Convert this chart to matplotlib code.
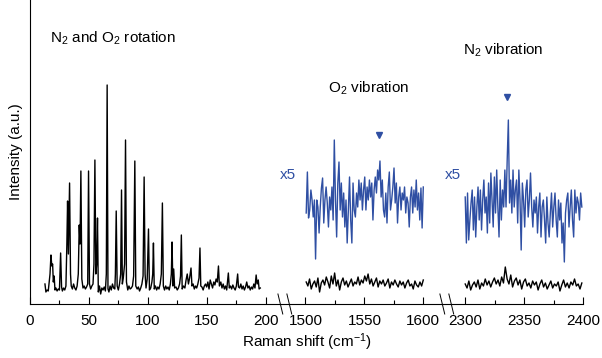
import numpy as np
import matplotlib
matplotlib.use("Agg")
import matplotlib.pyplot as plt

plt.rcParams['font.family'] = ['Liberation Sans', 'DejaVu Sans']
plt.rcParams['mathtext.fontset'] = 'custom'
plt.rcParams['mathtext.rm'] = 'Liberation Sans'
plt.rcParams['mathtext.it'] = 'Liberation Sans:italic'

BLUE = '#2f4fa3'

# rotation spectrum (cm-1, a.u.)
rot_x = [12.7, 13.5, 14.5, 15.5, 17.0, 17.8, 18.5, 19.2, 19.8, 20.5, 21.2, 22, 23, 24, 25, 26, 26.8, 27.5,
         28.5, 29.5, 30.5, 31.3, 31.9, 32.6, 33.6, 34.4, 35, 36, 37, 38, 39, 40, 41, 41.8, 42.5, 43.2, 44,
         45, 46, 47, 48, 49, 49.7, 50.5, 51.5, 52.5, 53.5, 54.3, 55.1, 55.9, 56.6, 57.3, 58, 59, 60, 61, 62,
         63, 64, 64.8, 65.5, 66.2, 67, 68, 69, 70, 71, 72, 72.5, 73.2, 74, 75, 76, 77, 77.7, 78.4, 79.2, 80.3,
         81.1, 81.9, 83, 84, 85, 86, 87, 88, 89, 89.8, 91, 92, 93, 94, 95, 96, 96.9, 97.7, 98.5, 99.5, 100.6,
         101.4, 102.5, 103.5, 104.2, 104.8, 105.5, 106.5, 107.5, 108.5, 109.5, 110.5, 111.5, 112.4, 113.2,
         114.2, 115.2, 116.2, 117.2, 118.2, 119.2, 120, 120.6, 121.3, 122, 122.8, 124, 125, 126, 127, 127.8,
         128.5, 129.2, 130.3, 131.5, 132.5, 133.5, 134.5, 135.5, 136.7, 137.5, 138.5, 139.5, 140.5, 141.5,
         142.5, 143.5, 144.3, 145, 146, 147, 148, 149, 150, 151, 152, 153, 154, 155, 156, 157, 158, 159, 160,
         160.8, 162, 163, 164, 165, 166, 167, 168.4, 169.2, 170.2, 171.2, 172.2, 173.2, 174.2, 175.2, 176.3,
         177, 178, 179, 180, 181, 182, 183, 184, 185, 186, 187, 188, 189, 190, 191, 192, 192.8, 193.8, 194.5,
         195.5]
rot_y = [20, 12, 14, 13, 30, 49, 38, 40, 22, 28, 14, 16, 13, 15, 14, 51, 17, 13,
         16, 14, 18, 60, 103, 50, 121, 30, 18, 15, 20, 16, 14, 18, 30, 79, 60, 133, 25,
         16, 18, 15, 17, 20, 133, 20, 15, 18, 20, 40, 144, 30, 40, 86, 12, 18, 10, 16, 14,
         17, 13, 30, 219, 15, 12, 18, 14, 20, 16, 15, 30, 93, 18, 14, 20, 30, 114, 20, 26, 40,
         164, 22, 14, 18, 15, 16, 18, 28, 143, 18, 15, 17, 13, 16, 20, 28, 127, 30, 16, 25, 75,
         14, 16, 22, 30, 61, 15, 18, 14, 17, 15, 20, 30, 101, 18,
         14, 18, 15, 17, 14, 20, 30, 62, 18, 35, 16, 17, 14, 16, 20, 28,
         69, 15, 18, 16, 24, 30, 20, 26, 36, 18, 20, 15, 18, 16,
         20, 26, 56, 18, 17, 14, 18, 20, 17, 22, 15, 24, 20, 16, 22, 19, 25, 22, 38,
         18, 22, 16, 20, 15, 18, 14, 31, 16, 18, 15, 19, 16, 14, 18, 30,
         17, 16, 20, 15, 18, 14, 17, 22, 16, 18, 14, 17, 15, 20, 16, 29, 20, 24, 15,
         16]

# O2 vibration region
o2_blue = [91, 132, 86, 94, 114, 104, 87, 104, 45, 104, 97, 71, 97, 116, 126, 81, 104, 117, 101, 77,
           107, 94, 117, 84, 164, 104, 67, 121, 142, 94, 121, 87, 111, 77, 104, 61, 94, 127, 84, 61,
           121, 94, 87, 111, 97, 124, 104, 121, 94, 114, 127, 94, 117, 104, 124, 107, 121, 84, 114, 127,
           111, 134, 124, 143, 107, 124, 94, 87, 111, 81, 117, 132, 94, 104, 117, 136, 101, 121, 81, 107,
           117, 94, 111, 104, 117, 91, 107, 101, 77, 107, 117, 91, 114, 97, 124, 94, 111, 84, 116, 76, 117]
o2_black = [22, 18, 25, 15, 20, 23, 17, 26, 12, 21, 24, 19, 27, 22, 16, 28, 20, 31, 18, 24, 14, 22, 26, 19,
            23, 17, 21, 25, 18, 22, 20, 27, 19, 24, 21, 28, 23, 30, 20, 25, 18, 22, 26, 17, 23, 20, 24, 18,
            21, 25, 16, 22, 19, 24, 20, 17, 23, 19, 22, 16, 21, 24, 18, 20, 15, 23, 19, 17, 22, 18, 24]

# N2 vibration region
n2_blue = [107, 61, 111, 64, 84, 101, 114, 74, 107, 67, 97, 117, 84, 114, 74, 104, 124, 91, 107, 71,
           121, 81, 131, 104, 77, 127, 91, 134, 97, 67, 124, 84, 114, 97, 134, 97, 144, 184, 101, 124,
           91, 134, 97, 114, 124, 81, 134, 104, 54, 121, 104, 77, 114, 124, 87, 104, 131, 97, 77, 104,
           91, 107, 71, 97, 111, 67, 97, 104, 84, 61, 107, 81, 67, 91, 111, 77, 97, 111, 84, 67,
           104, 84, 101, 61, 81, 42, 91, 104, 111, 77, 97, 114, 84, 67, 114, 91, 107, 101, 84, 111, 97]
n2_black = [20, 16, 23, 14, 19, 22, 17, 24, 15, 21, 18, 25, 19, 23, 17, 22, 26, 20, 24, 18, 27, 21, 37,
            25, 20, 29, 17, 23, 26, 19, 24, 15, 22, 25, 18, 21, 16, 23, 19, 22, 14, 20, 24, 17, 21, 15,
            19, 23, 16, 20, 18, 22, 13, 19, 24, 17, 21, 16, 22, 19, 25, 18, 20, 15, 21]

o2_range = (1500.6, 1600)
n2_range = (2300, 2399)
o2_peak = (1562.7, 169)
n2_peak = (2335.6, 207)

# broken axis: map each segment onto one continuous coordinate
seg2_start = 233.9
seg3_start = 369.5


def u2(x):
    return np.asarray(x) - 1500 + seg2_start


def u3(x):
    return np.asarray(x) - 2300 + seg3_start


fig = plt.figure(figsize=(6.02, 3.58), dpi=100)
ax = fig.add_axes([30/602, 54/358, 553/602, 304/358])

ax.plot(rot_x, rot_y, color='black', lw=1.0)

x = np.linspace(*o2_range, len(o2_blue))
ax.plot(u2(x), o2_blue, color=BLUE, lw=1.0)
x = np.linspace(*o2_range, len(o2_black))
ax.plot(u2(x), o2_black, color='black', lw=1.0)

x = np.linspace(*n2_range, len(n2_blue))
ax.plot(u3(x), n2_blue, color=BLUE, lw=1.0)
x = np.linspace(*n2_range, len(n2_black))
ax.plot(u3(x), n2_black, color='black', lw=1.0)

ax.plot(u2(o2_peak[0]), o2_peak[1], 'v', color=BLUE, ms=5)
ax.plot(u3(n2_peak[0]), n2_peak[1], 'v', color=BLUE, ms=5)

ax.set_xlim(0, u3(2400))
ax.set_ylim(0, 304)

major = [0, 50, 100, 150, 200]
major_lbl = [str(v) for v in major]
for v in [1500, 1550, 1600]:
    major.append(float(u2(v)))
    major_lbl.append(str(v))
for v in [2300, 2350, 2400]:
    major.append(float(u3(v)))
    major_lbl.append(str(v))
minor = [25, 75, 125, 175, float(u2(1525)), float(u2(1575)), float(u3(2325)), float(u3(2375))]
ax.set_xticks(major)
ax.set_xticklabels(major_lbl)
ax.set_xticks(minor, minor=True)
ax.tick_params(axis='x', which='major', direction='in', length=5, width=0.8, pad=7, labelsize=11)
ax.tick_params(axis='x', which='minor', direction='in', length=3, width=0.8)
ax.set_yticks([])

for s in ['top', 'right']:
    ax.spines[s].set_visible(False)
ax.spines['left'].set_linewidth(0.8)
ax.spines['bottom'].set_linewidth(0.8)

# break marks
for c in [210.5, 348.0]:
    for dx in [0, 7.6]:
        ax.plot([c + dx, c + dx + 4.1], [10, -10], color='black', lw=0.7, clip_on=False)

ax.set_xlabel('Raman shift (cm$^{-1}$)', fontsize=11, labelpad=3)
ax.set_ylabel('Intensity (a.u.)', fontsize=11, labelpad=5)

fig.text(50/602, 1 - 38/358, 'N$_2$ and O$_2$ rotation', fontsize=11, va='center')
fig.text(328/602, 1 - 88/358, 'O$_2$ vibration', fontsize=11, va='center')
fig.text(463/602, 1 - 50/358, 'N$_2$ vibration', fontsize=11, va='center')
fig.text(280/602, 1 - 175/358, 'x5', fontsize=11, va='center', color=BLUE)
fig.text(445/602, 1 - 175/358, 'x5', fontsize=11, va='center', color=BLUE)

fig.savefig('out.png', dpi=100)
